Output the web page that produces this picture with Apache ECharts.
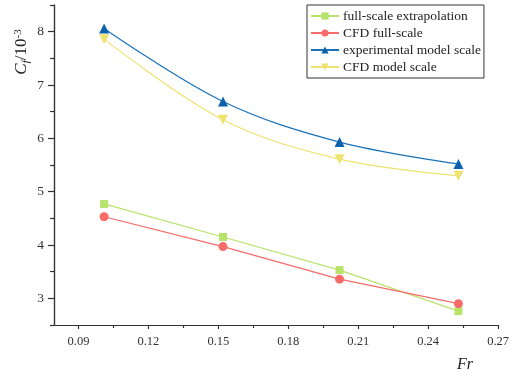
<!DOCTYPE html>
<html>
<head>
<meta charset="utf-8">
<script src="https://cdn.jsdelivr.net/npm/echarts@6/dist/echarts.min.js"></script>
<style>html,body{margin:0;padding:0;background:#fff}#c{width:512px;height:378px}</style>
</head>
<body>
<div id="c"></div>
<script>
var fr = [0.101, 0.152, 0.202, 0.253];
var fullScaleExtrap = [4.77, 4.15, 3.53, 2.76];
var cfdFullScale = [4.53, 3.97, 3.36, 2.90];
var expModelScale = [8.06, 6.69, 5.93, 5.52];
var cfdModelScale = [7.86, 6.35, 5.61, 5.30];
var xTickLabels = [0.09, 0.12, 0.15, 0.18, 0.21, 0.24, 0.27];
var xMinorTicks = [0.105, 0.135, 0.165, 0.195, 0.225, 0.255];
var yTickLabels = [3, 4, 5, 6, 7, 8];
var yMinorTicks = [2.5, 3.5, 4.5, 5.5, 6.5, 7.5, 8.5];

function pairs(ys){ return fr.map(function(x,i){ return [x, ys[i]]; }); }
var FONT = "'Liberation Serif','Times New Roman',serif";
var axisCol = '#333';

var chart = echarts.init(document.getElementById('c'));
function mkX(labels, ticks, len, main){
  return {
    type:'value', min:0.0795, max:0.27, position:'bottom',
    axisLine:{show:true, onZero:false, lineStyle:{color:axisCol, width:1.2}},
    axisTick:{show:true, customValues:ticks, length:len, lineStyle:{color:axisCol, width:1.2}},
    axisLabel:{show:true, customValues:labels, margin:10, color:'#333', fontFamily:FONT, fontSize:12.5,
      formatter:function(v){ return main ? v.toFixed(2) : ''; }},
    splitLine:{show:false}
  };
}
function mkY(labels, ticks, len, main){
  return {
    type:'value', min:2.5, max:8.5, position:'left',
    axisLine:{show:true, onZero:false, lineStyle:{color:axisCol, width:1.2}},
    axisTick:{show:true, customValues:ticks, length:len, lineStyle:{color:axisCol, width:1.2}},
    axisLabel:{show:true, customValues:labels, margin:10, color:'#333', fontFamily:FONT, fontSize:13.5,
      formatter:function(v){ return main ? String(v) : ''; }},
    splitLine:{show:false}
  };
}
var option = {
  animation:false,
  grid:{left:54, right:13, top:5, bottom:53, containLabel:false},
  xAxis:[mkX(xTickLabels, xTickLabels, 4, true), mkX(xMinorTicks, xMinorTicks, 3, false)],
  yAxis:[mkY(yTickLabels, yTickLabels, 6, true), mkY(yMinorTicks, yMinorTicks, 4, false)],
  legend:{
    orient:'vertical', left:307, top:5, width:178,
    borderColor:'#333', borderWidth:1, borderRadius:0,
    padding:[4,3,4,3], itemGap:3, itemWidth:28, itemHeight:9,
    textStyle:{fontFamily:FONT, fontSize:13.5, color:'#222', padding:[0,0,0,-1]},
    data:['full-scale extrapolation','CFD full-scale','experimental model scale','CFD model scale']
  },
  series:[
    {name:'full-scale extrapolation', type:'line', data:pairs(fullScaleExtrap), symbol:'rect', symbolSize:8,
     itemStyle:{color:'#b8e36b'}, lineStyle:{color:'#b8e36b', width:1.2}},
    {name:'CFD full-scale', type:'line', data:pairs(cfdFullScale), symbol:'circle', symbolSize:9,
     itemStyle:{color:'#f86b6b'}, lineStyle:{color:'#f86b6b', width:1.2}},
    {name:'experimental model scale', type:'line', data:pairs(expModelScale), symbol:'triangle', symbolSize:10, smooth:0.35,
     itemStyle:{color:'#0c62ab'}, lineStyle:{color:'#1a72bb', width:1.2}},
    {name:'CFD model scale', type:'line', data:pairs(cfdModelScale), symbol:'triangle', symbolRotate:180, symbolSize:10, smooth:0.35,
     itemStyle:{color:'#eee36f'}, lineStyle:{color:'#eee36f', width:1.2}}
  ],
  graphic:[
    {type:'text', x:465, y:365, style:{text:'Fr', font:"italic 16px 'Liberation Serif', serif", fill:'#222', align:'center', verticalAlign:'middle'}},
    {type:'text', x:22, y:52, rotation:Math.PI/2,
     style:{text:'{c|C}{f|f}{n|/10}{s|-3}', align:'center', verticalAlign:'middle',
       rich:{
         c:{font:"italic 17px 'Liberation Serif', serif", fill:'#222', verticalAlign:'middle'},
         f:{font:"italic 11px 'Liberation Serif', serif", fill:'#222', verticalAlign:'bottom', padding:[7,0,0,0]},
         n:{font:"17px 'Liberation Serif', serif", fill:'#222', verticalAlign:'middle'},
         s:{font:"11px 'Liberation Serif', serif", fill:'#222', verticalAlign:'top', padding:[0,0,8,0]}
       }}}
  ]
};
chart.setOption(option);
</script>
</body>
</html>
